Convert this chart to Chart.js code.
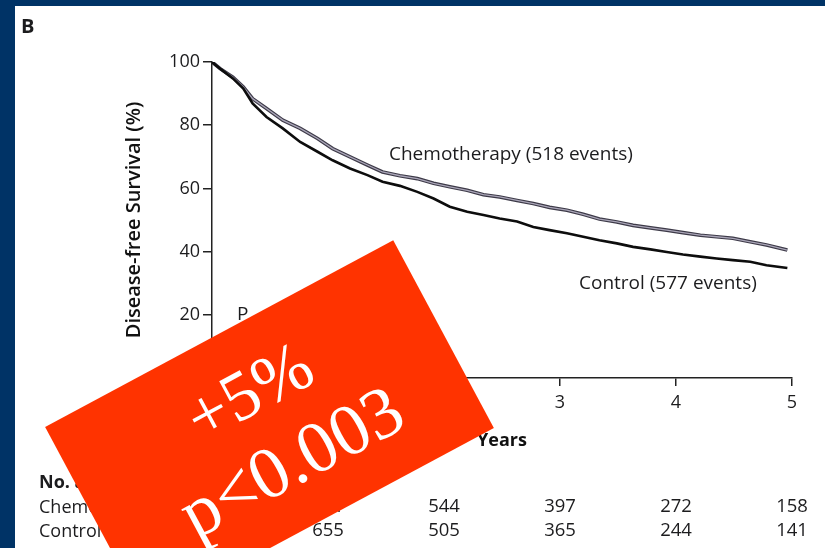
<!DOCTYPE html>
<html>
<head>
<meta charset="utf-8">
<script src="https://cdn.jsdelivr.net/npm/chart.js@4.4.1/dist/chart.umd.min.js"></script>
<style>
  html, body { margin: 0; padding: 0; background: #ffffff; }
  #km { display: block; }
</style>
</head>
<body>
<canvas id="km" width="825" height="548" style="width:825px;height:548px"></canvas>
<script>
// Follow-up time (years) and Kaplan-Meier disease-free survival (%)
const years = [0, 0.07, 0.18, 0.27, 0.35, 0.47, 0.61, 0.76, 0.91, 1.04, 1.19, 1.34, 1.47, 1.62, 1.77, 1.91, 2.05, 2.20, 2.34, 2.48, 2.63, 2.77, 2.91, 3.06, 3.20, 3.34, 3.49, 3.63, 3.78, 3.92, 4.06, 4.21, 4.35, 4.49, 4.64, 4.78, 4.96];
const chemoSurvival = [100, 97.9, 95.2, 92.1, 88.4, 85.3, 81.6, 79.0, 75.8, 72.6, 70.0, 67.4, 65.2, 64.0, 63.1, 61.6, 60.5, 59.4, 58.0, 57.3, 56.2, 55.2, 54.0, 53.1, 51.8, 50.3, 49.4, 48.3, 47.5, 46.8, 46.0, 45.2, 44.7, 44.2, 43.1, 42.1, 40.5];
const controlSurvival = [100, 97.9, 94.8, 91.6, 86.9, 82.6, 79.0, 74.7, 71.6, 68.9, 66.3, 64.2, 62.1, 60.8, 58.9, 56.8, 54.2, 52.6, 51.6, 50.5, 49.5, 47.8, 46.8, 45.8, 44.7, 43.6, 42.6, 41.5, 40.7, 39.9, 39.1, 38.4, 37.8, 37.3, 36.8, 35.7, 34.8];

// Axis ticks
const xTickValues = [0, 1, 2, 3, 4, 5];
const yTickValues = [0, 20, 40, 60, 80, 100];

// Number at risk table
const riskYears = [0, 1, 2, 3, 4, 5];
const chemoAtRisk = [932, 691, 544, 397, 272, 158];
const controlAtRisk = [935, 655, 505, 365, 244, 141];

// Text
const panelLetter = 'B';
const chemoLabel = 'Chemotherapy (518 events)';
const controlLabel = 'Control (577 events)';
const pValueText = 'P';
const riskHeader = 'No. at Risk';
const riskRowNames = ['Chemotherapy', 'Control'];
const badgeLines = ['+5%', 'p<0.003'];

const SANS = '"Open Sans", "Noto Sans", sans-serif';
const INK = '#1c1c1e';

const toPoints = (xs, ys) => xs.map((x, i) => ({ x: x, y: ys[i] }));

// Slide frame: dark blue band at top and left, white panel
const framePlugin = {
  id: 'frame',
  beforeDraw(chart) {
    const ctx = chart.ctx;
    ctx.save();
    ctx.fillStyle = '#003366';
    ctx.fillRect(0, 0, chart.width, chart.height);
    ctx.fillStyle = '#ffffff';
    ctx.fillRect(15, 6, chart.width - 15, chart.height - 6);
    ctx.restore();
  }
};

// Curve labels, risk table and the highlighted result badge
const overlayPlugin = {
  id: 'overlay',
  afterDraw(chart) {
    const ctx = chart.ctx;
    const xs = chart.scales.x;
    ctx.save();
    ctx.fillStyle = INK;
    ctx.textBaseline = 'middle';

    ctx.font = 'bold 20px ' + SANS;
    ctx.textAlign = 'left';
    ctx.fillText(panelLetter, 21, 27);

    ctx.font = '19px ' + SANS;
    ctx.fillText(chemoLabel, 389, 155);
    ctx.fillText(controlLabel, 579, 284);
    ctx.fillText(pValueText, 237, 315);

    // number at risk
    ctx.font = 'bold 18px ' + SANS;
    ctx.fillText(riskHeader, 39, 483);
    ctx.font = '18px ' + SANS;
    ctx.fillText(riskRowNames[0], 39, 508);
    ctx.fillText(riskRowNames[1], 39, 532);
    ctx.textAlign = 'center';
    ctx.font = '18.5px ' + SANS;
    riskYears.forEach((yr, i) => {
      const px = xs.getPixelForValue(yr);
      ctx.fillText(String(chemoAtRisk[i]), px, 507);
      ctx.fillText(String(controlAtRisk[i]), px, 531);
    });

    // badge
    const cx = 269.5, cy = 427.5, w = 395, h = 213;
    const ang = -28.2 * Math.PI / 180;
    ctx.translate(cx, cy);
    ctx.rotate(ang);
    ctx.fillStyle = '#ff3300';
    ctx.fillRect(-w / 2, -h / 2, w, h);
    ctx.fillStyle = '#ffffff';
    ctx.textAlign = 'center';
    ctx.textBaseline = 'middle';
    ctx.font = '70px "Liberation Serif", "Times New Roman", serif';
    ctx.fillText(badgeLines[0], -1, -37);
    ctx.font = '73px "Liberation Serif", "Times New Roman", serif';
    ctx.fillText(badgeLines[1], 3, 45);
    ctx.restore();
  }
};

new Chart(document.getElementById('km'), {
  type: 'line',
  data: {
    datasets: [
      { label: 'Chemotherapy', data: toPoints(years, chemoSurvival), borderColor: '#3d3a48', borderWidth: 3.6, pointRadius: 0, tension: 0, order: 2 },
      { label: 'Chemotherapy', data: toPoints(years, chemoSurvival), borderColor: '#aaa6b8', borderWidth: 1.3, pointRadius: 0, tension: 0, order: 1 },
      { label: 'Control', data: toPoints(years, controlSurvival), borderColor: '#0d0d0d', borderWidth: 2.6, pointRadius: 0, tension: 0, order: 0 }
    ]
  },
  options: {
    responsive: false,
    animation: false,
    devicePixelRatio: 1,
    layout: { padding: { left: 0, top: 62, right: 33, bottom: 88 } },
    plugins: { legend: { display: false }, tooltip: { enabled: false }, title: { display: false } },
    scales: {
      x: {
        type: 'linear', min: 0, max: 5,
        afterBuildTicks: s => { s.ticks = xTickValues.map(v => ({ value: v })); },
        afterFit: s => { s.height = 82; },
        grid: { drawOnChartArea: false, drawTicks: true, tickLength: 8, color: '#222', lineWidth: 1.5 },
        border: { display: true, color: '#222', width: 1.5 },
        ticks: { color: INK, font: { family: SANS, size: 18 }, padding: 6, maxRotation: 0 },
        title: { display: true, text: 'Years', color: '#111', font: { family: SANS, size: 18, weight: 'bold' }, padding: { top: 0, bottom: 8 } }
      },
      y: {
        type: 'linear', min: 0, max: 100,
        afterBuildTicks: s => { s.ticks = yTickValues.map(v => ({ value: v })); },
        afterFit: s => { s.width = 212; },
        grid: { drawOnChartArea: false, drawTicks: true, tickLength: 9, color: '#222', lineWidth: 1.5 },
        border: { display: true, color: '#222', width: 1.5 },
        ticks: { color: INK, font: { family: SANS, size: 18 }, padding: 3 },
        title: { display: true, text: 'Disease-free Survival (%)', color: '#111', font: { family: SANS, size: 20, weight: '600' }, padding: { top: 122, bottom: 0 } }
      }
    }
  },
  plugins: [framePlugin, overlayPlugin]
});
</script>
</body>
</html>
